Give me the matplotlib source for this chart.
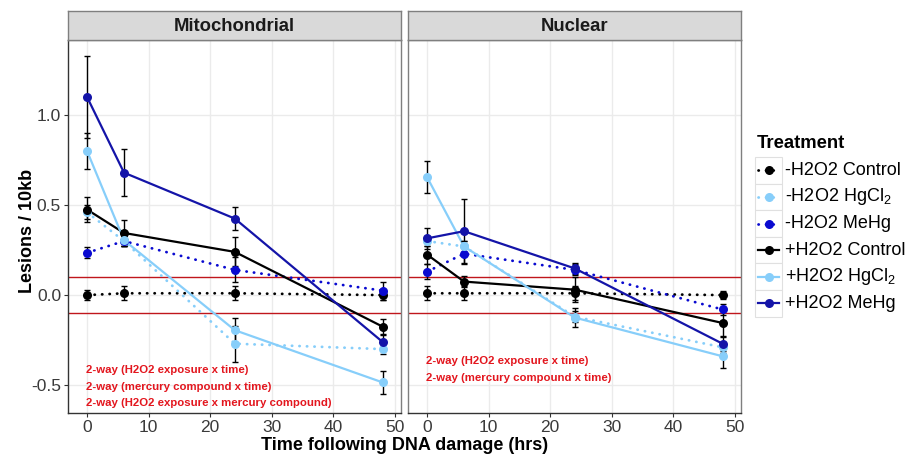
import matplotlib
matplotlib.use("Agg")
import matplotlib.pyplot as plt
from matplotlib.patches import Rectangle
from matplotlib.lines import Line2D

plt.rcParams['font.family'] = ['Liberation Sans', 'DejaVu Sans']
plt.rcParams['mathtext.fontset'] = 'custom'
plt.rcParams['mathtext.rm'] = 'Liberation Sans'

# hours after damage
times = [0, 6, 24, 48]

treatments = ["-H2O2 Control", "-H2O2 HgCl$_\\mathregular{2}$", "-H2O2 MeHg",
              "+H2O2 Control", "+H2O2 HgCl$_\\mathregular{2}$", "+H2O2 MeHg"]
colors = ["black", "#87CEFA", "#0a0ad0", "black", "#87CEFA", "#1414a8"]
dotted = [True, True, True, False, False, False]

# lesions per 10 kb, mitochondrial DNA
mito_means = [
    [0.00, 0.01, 0.01, 0.00],
    [0.46, 0.30, -0.27, -0.30],
    [0.235, 0.30, 0.14, 0.025],
    [0.475, 0.345, 0.24, -0.175],
    [0.80, 0.305, -0.195, -0.485],
    [1.10, 0.68, 0.425, -0.26],
]
mito_se = [
    [0.03, 0.04, 0.04, 0.03],
    [0.04, 0.03, 0.10, 0.03],
    [0.03, 0.03, 0.07, 0.05],
    [0.07, 0.07, 0.08, 0.04],
    [0.10, 0.03, 0.07, 0.065],
    [0.23, 0.13, 0.065, 0.04],
]

# lesions per 10 kb, nuclear DNA
nuc_means = [
    [0.01, 0.01, 0.01, 0.00],
    [0.30, 0.27, -0.12, -0.29],
    [0.13, 0.23, 0.14, -0.08],
    [0.225, 0.075, 0.03, -0.155],
    [0.655, 0.27, -0.125, -0.34],
    [0.315, 0.355, 0.148, -0.27],
]
nuc_se = [
    [0.04, 0.04, 0.04, 0.02],
    [0.03, 0.03, 0.03, 0.03],
    [0.04, 0.05, 0.03, 0.03],
    [0.05, 0.03, 0.07, 0.08],
    [0.09, 0.03, 0.055, 0.065],
    [0.06, 0.18, 0.03, 0.04],
]

mito_notes = ["2-way (H2O2 exposure x time)",
              "2-way (mercury compound x time)",
              "2-way (H2O2 exposure x mercury compound)"]
mito_note_y = [-0.417, -0.51, -0.598]
nuc_notes = ["2-way (H2O2 exposure x time)",
             "2-way (mercury compound x time)"]
nuc_note_y = [-0.365, -0.458]

W, H = 908, 459


def box(x0, y0, x1, y1):
    return [x0 / W, 1 - y1 / H, (x1 - x0) / W, (y1 - y0) / H]


fig = plt.figure(figsize=(W / 100, H / 100), dpi=100)


def draw_panel(rect, strip_rect, title, means, ses, notes, note_y, show_y):
    ax = fig.add_axes(rect)
    ax.set_xlim(-3.1, 51)
    ax.set_ylim(-0.655, 1.417)
    ax.set_xticks([0, 10, 20, 30, 40, 50])
    ax.set_yticks([-0.5, 0.0, 0.5, 1.0])
    ax.grid(True, color="#EBEBEB", lw=1.0)
    ax.set_axisbelow(True)
    for s in ax.spines.values():
        s.set_color("#7f7f7f")
        s.set_linewidth(1.0)
    ax.spines['bottom'].set_color("#333333")
    if show_y:
        ax.spines['left'].set_color("#333333")
        ax.set_yticklabels(["-0.5", "0.0", "0.5", "1.0"])
    else:
        ax.tick_params(axis='y', left=False, labelleft=False)
    ax.tick_params(axis='both', labelsize=12.5, colors="#333333",
                   length=3, width=0.8, pad=2)
    ax.tick_params(axis='both', labelcolor="#3a3a3a")

    for yh in (0.1, -0.1):
        ax.axhline(yh, color="#c0161c", lw=1.0, zorder=2)

    for i in range(len(means)):
        if dotted[i]:
            ls = (0, (0.1, 2.6))
            lw = 2.0
        else:
            ls = "-"
            lw = 1.6
        ax.plot(times, means[i], color=colors[i], ls=ls, lw=lw,
                dash_capstyle='round', zorder=3)
        ax.errorbar(times, means[i], yerr=ses[i], fmt='none', ecolor="black",
                    elinewidth=1.0, capsize=2.5, capthick=1.0, zorder=4)
        ax.plot(times, means[i], 'o', color=colors[i], ms=6.5, mec='none',
                zorder=5)

    for txt, yy in zip(notes, note_y):
        ax.text(-0.1, yy, txt, color="#e3161e", fontsize=8.2, va='center',
                ha='left', fontweight='bold', zorder=6)

    sax = fig.add_axes(strip_rect)
    sax.set_xticks([])
    sax.set_yticks([])
    sax.set_facecolor("#D9D9D9")
    for s in sax.spines.values():
        s.set_color("#7f7f7f")
        s.set_linewidth(1.0)
    sax.text(0.5, 0.48, title, ha='center', va='center', fontsize=13.3,
             fontweight='bold', color="#1a1a1a", transform=sax.transAxes)
    return ax


ax1 = draw_panel(box(68, 40, 401, 413), box(68, 11, 401, 40), "Mitochondrial",
                 mito_means, mito_se, mito_notes, mito_note_y, True)
ax2 = draw_panel(box(408, 40, 741, 413), box(408, 11, 741, 40), "Nuclear",
                 nuc_means, nuc_se, nuc_notes, nuc_note_y, False)

fig.text(28 / W, 1 - 231 / H, "Lesions / 10kb", rotation=90, ha='center',
         va='center', fontsize=13, fontweight='bold')
fig.text(405 / W, 1 - 446 / H, "Time following DNA damage (hrs)", ha='center',
         va='center', fontsize=13, fontweight='bold')

# legend drawn by hand so each key sits in its own box
lax = fig.add_axes([0, 0, 1, 1], facecolor='none')
lax.set_xlim(0, W)
lax.set_ylim(H, 0)
lax.axis('off')
lax.text(757, 144, "Treatment", fontsize=13.3, fontweight='bold',
         va='center', ha='left')
row_top = 157
row_h = 26.6
for i, name in enumerate(treatments):
    y0 = row_top + i * row_h
    lax.add_patch(Rectangle((755, y0), 27, row_h, facecolor='white',
                            edgecolor="#e0e0e0", lw=0.8))
    yc = y0 + row_h / 2
    if dotted[i]:
        lax.add_line(Line2D([758, 779], [yc, yc], color=colors[i], lw=2.0,
                            ls=(0, (0.1, 2.6)), dash_capstyle='round'))
    else:
        lax.add_line(Line2D([758, 779], [yc, yc], color=colors[i], lw=1.6))
    lax.add_line(Line2D([768.5], [yc], marker='o', color=colors[i], ms=6.5,
                        mec='none'))
    lax.text(785, yc, name, fontsize=13, va='center', ha='left')

fig.savefig("out.png", dpi=100)
